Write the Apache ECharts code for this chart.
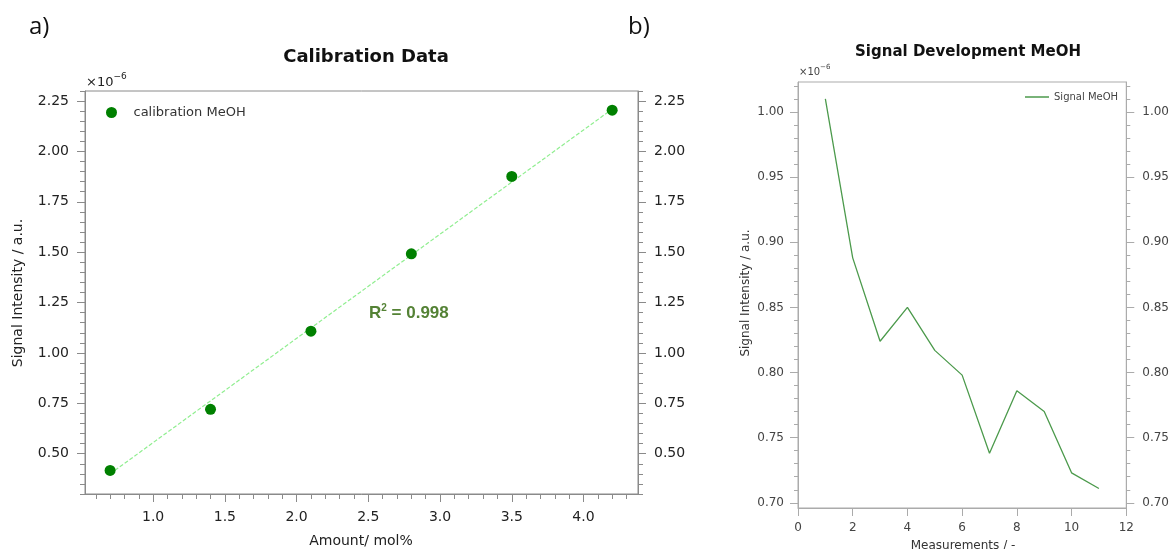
<!DOCTYPE html>
<html><head><meta charset="utf-8">
<script src="https://cdn.jsdelivr.net/npm/echarts@6/dist/echarts.min.js"></script>
<style>html,body{margin:0;padding:0;background:#fff}#c{width:1172px;height:549px}</style>
</head><body><div id="c"></div>
<script>
// ---- data (signal values in units of 1e-6 a.u.) ----
const calAmount = [0.7, 1.4, 2.1, 2.8, 3.5, 4.2];
const calSignal = [0.417, 0.720, 1.108, 1.492, 1.876, 2.205];
const fitAmount = [0.7, 4.2];
const fitSignal = [0.40, 2.21];
const measIndex = [1, 2, 3, 4, 5, 6, 7, 8, 9, 10, 11];
const measSignal = [1.010, 0.888, 0.824, 0.850, 0.817, 0.798, 0.738, 0.786, 0.770, 0.723, 0.711];
// ---- tick labels ----
const aXTicks = [1.0, 1.5, 2.0, 2.5, 3.0, 3.5, 4.0];
const aYTicks = [0.50, 0.75, 1.00, 1.25, 1.50, 1.75, 2.00, 2.25];
const bXTicks = [0, 2, 4, 6, 8, 10, 12];
const bYTicks = [0.70, 0.75, 0.80, 0.85, 0.90, 0.95, 1.00];

function minorSteps(a, b, s, major) {
  const out = []; const n = Math.round((b - a) / s);
  for (let i = 0; i <= n; i++) {
    const v = +(a + i * s).toFixed(4);
    if (!major.some(m => Math.abs(m - v) < 1e-6)) out.push(v);
  }
  return out;
}
const aXMinor = minorSteps(0.6, 4.3, 0.1, aXTicks);
const aYMinor = minorSteps(0.30, 2.30, 0.05, aYTicks);
const bYMinor = minorSteps(0.70, 1.02, 0.01, bYTicks);

const FONT = 'DejaVu Sans';
const A_LINE = '#8a8a8a', B_LINE = '#ababab';

function axis(o) {
  return {
    type: 'value', gridIndex: o.grid, position: o.pos, min: o.min, max: o.max,
    splitLine: { show: false },
    axisLine: { show: o.line !== false, onZero: false, lineStyle: { color: o.color, width: 1 } },
    axisTick: { show: true, customValues: o.ticks, length: o.len, lineStyle: { color: o.color, width: 1 } },
    axisLabel: o.labels ? {
      show: true, customValues: o.ticks, formatter: o.fmt, fontSize: o.fs, color: o.lc,
      fontFamily: FONT, margin: o.margin
    } : { show: false }
  };
}

const xAxes = [
  axis({grid:0, pos:'bottom', min:0.525, max:4.38, ticks:aXTicks, len:8, color:A_LINE, labels:true, fmt:v=>v.toFixed(1), fs:14, lc:'#222', margin:16}),
  axis({grid:0, pos:'bottom', min:0.525, max:4.38, ticks:aXMinor, len:5, color:A_LINE, labels:false, line:false}),
  axis({grid:1, pos:'bottom', min:0, max:12, ticks:bXTicks, len:8, color:B_LINE, labels:true, fmt:v=>String(v), fs:12, lc:'#444', margin:14})
];
const yAxes = [
  axis({grid:0, pos:'left', min:0.30, max:2.30, ticks:aYTicks, len:8, color:A_LINE, labels:true, fmt:v=>v.toFixed(2), fs:14, lc:'#222', margin:16}),
  axis({grid:0, pos:'left', min:0.30, max:2.30, ticks:aYMinor, len:5, color:A_LINE, labels:false, line:false}),
  axis({grid:0, pos:'right', min:0.30, max:2.30, ticks:aYTicks, len:8, color:A_LINE, labels:true, fmt:v=>v.toFixed(2), fs:14, lc:'#222', margin:16}),
  axis({grid:0, pos:'right', min:0.30, max:2.30, ticks:aYMinor, len:5, color:A_LINE, labels:false, line:false}),
  axis({grid:1, pos:'left', min:0.696, max:1.023, ticks:bYTicks, len:8, color:B_LINE, labels:true, fmt:v=>v.toFixed(2), fs:12, lc:'#444', margin:14}),
  axis({grid:1, pos:'left', min:0.696, max:1.023, ticks:bYMinor, len:4, color:B_LINE, labels:false, line:false}),
  axis({grid:1, pos:'right', min:0.696, max:1.023, ticks:bYTicks, len:8, color:B_LINE, labels:true, fmt:v=>v.toFixed(2), fs:12, lc:'#444', margin:16}),
  axis({grid:1, pos:'right', min:0.696, max:1.023, ticks:bYMinor, len:4, color:B_LINE, labels:false, line:false})
];

const option = {
  animation: false,
  backgroundColor: '#ffffff',
  grid: [
    { left: 85, right: 534, top: 91, bottom: 55, show: true, borderColor: A_LINE, borderWidth: 1, backgroundColor: 'transparent', containLabel: false },
    { left: 798, right: 43, top: 82, bottom: 41, show: true, borderColor: B_LINE, borderWidth: 1, backgroundColor: 'transparent', containLabel: false }
  ],
  title: [
    { text: 'Calibration Data', left: 361, top: 43, textAlign: 'center',
      textStyle: { fontFamily: FONT, fontWeight: 'bold', fontSize: 18, color: '#111' } },
    { text: 'Signal Development MeOH', left: 963, top: 40, textAlign: 'center',
      textStyle: { fontFamily: FONT, fontWeight: 'bold', fontSize: 15, color: '#111' } }
  ],
  legend: [
    { data: [{ name: 'calibration MeOH', icon: 'circle', itemStyle: { color: '#008000', opacity: 1 } }], left: 101, top: 101, itemWidth: 34, itemHeight: 11, itemGap: 5,
      textStyle: { fontFamily: FONT, fontSize: 13, color: '#333' } },
    { data: [{ name: 'Signal MeOH', icon: 'rect' }], left: 1020, top: 87, itemWidth: 24, itemHeight: 1.5, itemGap: 6,
      textStyle: { fontFamily: FONT, fontSize: 10, color: '#444' } }
  ],
  xAxis: xAxes,
  yAxis: yAxes,
  series: [
    { type: 'line', name: 'fit', xAxisIndex: 0, yAxisIndex: 0, data: fitAmount.map((x, i) => [x, fitSignal[i]]),
      showSymbol: false, symbol: 'none', lineStyle: { color: '#90ee90', width: 1.2, type: [4, 2] }, z: 2 },
    { type: 'scatter', name: 'calibration MeOH', xAxisIndex: 0, yAxisIndex: 0, data: calAmount.map((x, i) => [x, calSignal[i]]),
      symbol: 'circle', symbolSize: 11, itemStyle: { color: '#008000', opacity: 1 }, z: 3 },
    { type: 'line', name: 'Signal MeOH', xAxisIndex: 2, yAxisIndex: 4, data: measIndex.map((x, i) => [x, measSignal[i]]),
      showSymbol: false, symbol: 'none', lineStyle: { color: '#4c9a4c', width: 1.3 }, itemStyle: { color: '#4c9a4c' } }
  ],
  graphic: [
    { type: 'text', left: 29, top: 15, style: { text: 'a)', fontFamily: 'Open Sans', fontSize: 24, fill: '#111' } },
    { type: 'text', left: 628, top: 15, style: { text: 'b)', fontFamily: 'Open Sans', fontSize: 24, fill: '#111' } },
    { type: 'text', left: 86, top: 72, style: { text: '{m|×10}{s|−6}', rich: {
        m: { fontFamily: FONT, fontSize: 13, fill: '#222', verticalAlign: 'bottom' },
        s: { fontFamily: FONT, fontSize: 9, fill: '#222', verticalAlign: 'top', padding: [0, 0, 8, 0] } } } },
    { type: 'text', left: 799, top: 64, style: { text: '{m|×10}{s|−6}', rich: {
        m: { fontFamily: FONT, fontSize: 10, fill: '#444', verticalAlign: 'bottom' },
        s: { fontFamily: FONT, fontSize: 7, fill: '#444', verticalAlign: 'top', padding: [0, 0, 6, 0] } } } },
    { type: 'text', left: 369, top: 303, style: { text: '{r|R}{s|2}{r| = 0.998}', rich: {
        r: { fontFamily: 'Liberation Sans', fontWeight: 'bold', fontSize: 17, fill: '#548235' },
        s: { fontFamily: 'Liberation Sans', fontWeight: 'bold', fontSize: 10, fill: '#548235', padding: [0, 0, 10, 0] } } } },
    { type: 'text', x: 18, y: 293, rotation: Math.PI / 2, style: { text: 'Signal Intensity / a.u.', fontFamily: FONT, fontSize: 14,
        fill: '#222', align: 'center', verticalAlign: 'middle' } },
    { type: 'text', x: 361, y: 541, style: { text: 'Amount/ mol%', fontFamily: FONT, fontSize: 14,
        fill: '#222', align: 'center', verticalAlign: 'middle' } },
    { type: 'text', x: 746, y: 293, rotation: Math.PI / 2, style: { text: 'Signal Intensity / a.u.', fontFamily: FONT, fontSize: 12,
        fill: '#333', align: 'center', verticalAlign: 'middle' } },
    { type: 'text', x: 963, y: 546, style: { text: 'Measurements / -', fontFamily: FONT, fontSize: 12,
        fill: '#333', align: 'center', verticalAlign: 'middle' } }
  ]
};
const chart = echarts.init(document.getElementById('c'), null, { renderer: 'canvas' });
chart.setOption(option);
</script></body></html>
